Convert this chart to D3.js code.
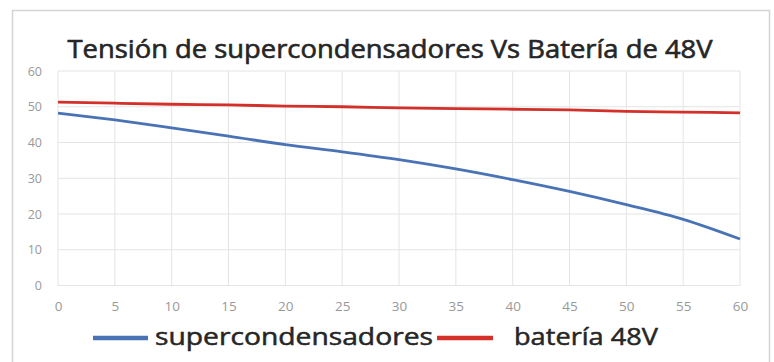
<!DOCTYPE html>
<html><head><meta charset="utf-8">
<script src="https://cdn.jsdelivr.net/npm/d3@7"></script>
<style>html,body{margin:0;padding:0;background:#fff;}svg{display:block;}</style>
</head><body>
<script>
const xValues = [0,5,10,15,20,25,30,35,40,45,50,55,60];
const superValues = [48.2,46.3,44.1,41.8,39.4,37.4,35.2,32.6,29.6,26.3,22.6,18.5,13.0];
const bateriaValues = [51.3,51.0,50.7,50.5,50.2,50.0,49.7,49.5,49.3,49.1,48.7,48.5,48.3];
const xTicks = [0,5,10,15,20,25,30,35,40,45,50,55,60];
const yTicks = [0,10,20,30,40,50,60];
const titleText = "Tensión de supercondensadores Vs Batería de 48V";
const seriesNames = ["supercondensadores","batería 48V"];

const W=774,H=362;
const svg=d3.select("body").append("svg").attr("width",W).attr("height",H);
svg.append("rect").attr("x",12.5).attr("y",10.5).attr("width",757).attr("height",360)
  .attr("fill","#fff").attr("stroke","#d4d4d4").attr("stroke-width",1.5);

const x=d3.scaleLinear().domain([0,60]).range([58,740]);
const y=d3.scaleLinear().domain([0,60]).range([285.5,71]);

const font="'Open Sans', 'Noto Sans', sans-serif";

// gridlines
svg.append("g").selectAll("line.h").data(yTicks).join("line")
  .attr("x1",x(0)).attr("x2",x(60)).attr("y1",d=>y(d)).attr("y2",d=>y(d))
  .attr("stroke","#e4e4e4").attr("stroke-width",1);
svg.append("g").selectAll("line.v").data(xTicks).join("line")
  .attr("x1",d=>x(d)).attr("x2",d=>x(d)).attr("y1",y(0)).attr("y2",y(60))
  .attr("stroke","#e4e4e4").attr("stroke-width",1);

// axes labels
const yAxis=svg.append("g").attr("transform",`translate(${x(0)-16},0)`)
  .call(d3.axisLeft(y).tickValues(yTicks).tickSize(0).tickPadding(0));
yAxis.select(".domain").remove();
yAxis.selectAll("text").attr("font-family",font).attr("font-size",12.5).attr("fill","#999");

const xAxis=svg.append("g").attr("transform",`translate(0,${y(0)+12})`)
  .call(d3.axisBottom(x).tickValues(xTicks).tickSize(0).tickPadding(4));
xAxis.select(".domain").remove();
xAxis.selectAll("text").attr("font-family",font).attr("font-size",13.5).attr("fill","#999");

// lines
const line=d3.line().x((d,i)=>x(xValues[i])).y(d=>y(d)).curve(d3.curveMonotoneX);
svg.append("path").datum(bateriaValues).attr("d",line).attr("fill","none")
  .attr("stroke","#d3302a").attr("stroke-width",2.8);
svg.append("path").datum(superValues).attr("d",line).attr("fill","none")
  .attr("stroke","#4a73b6").attr("stroke-width",2.8);

// title
svg.append("text").attr("x",390).attr("y",58).attr("text-anchor","middle")
  .attr("font-family",font).attr("font-size",25).attr("fill","#262626")
  .attr("stroke","#262626").attr("stroke-width",0.6)
  .attr("textLength",645).attr("lengthAdjust","spacingAndGlyphs").text(titleText);

// legend
const lg=svg.append("g");
lg.append("line").attr("x1",93).attr("x2",148).attr("y1",338).attr("y2",338)
  .attr("stroke","#4a73b6").attr("stroke-width",4.5);
lg.append("text").attr("x",155).attr("y",345).attr("font-family",font).attr("font-size",23)
  .attr("fill","#262626").attr("stroke","#262626").attr("stroke-width",0.5)
  .attr("textLength",278).attr("lengthAdjust","spacingAndGlyphs").text(seriesNames[0]);
lg.append("line").attr("x1",437).attr("x2",493).attr("y1",338).attr("y2",338)
  .attr("stroke","#d3302a").attr("stroke-width",4.5);
lg.append("text").attr("x",514).attr("y",345).attr("font-family",font).attr("font-size",23)
  .attr("fill","#262626").attr("stroke","#262626").attr("stroke-width",0.5)
  .attr("textLength",144).attr("lengthAdjust","spacingAndGlyphs").text(seriesNames[1]);
</script>
</body></html>
